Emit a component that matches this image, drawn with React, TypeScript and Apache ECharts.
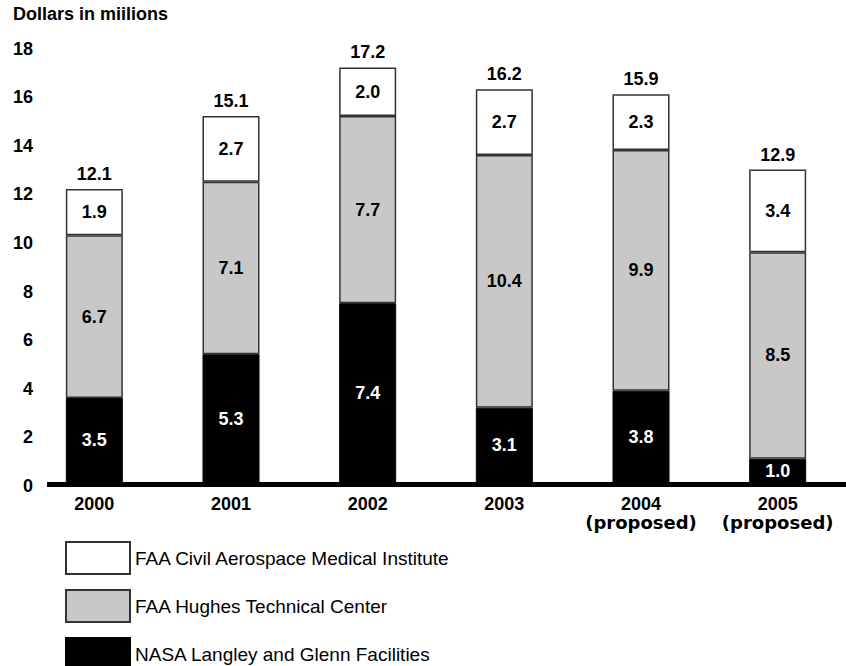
import React, { useEffect, useRef } from "react";
import * as echarts from "echarts";

const categories = ["2000", "2001", "2002", "2003", "2004\n(proposed)", "2005\n(proposed)"];
const nasaValues = [3.5, 5.3, 7.4, 3.1, 3.8, 1.0];
const hughesValues = [6.7, 7.1, 7.7, 10.4, 9.9, 8.5];
const camiValues = [1.9, 2.7, 2.0, 2.7, 2.3, 3.4];
const totalLabels = [12.1, 15.1, 17.2, 16.2, 15.9, 12.9];
const seriesNames = [
  "FAA Civil Aerospace Medical Institute",
  "FAA Hughes Technical Center",
  "NASA Langley and Glenn Facilities",
];
const yMin = 0;
const yMax = 18;
const yStep = 2;
const axisTitle = "Dollars in miilions";

const FONT = '"Liberation Sans", Arial, Helvetica, sans-serif';

export default function App() {
  const ref = useRef<HTMLDivElement>(null);
  useEffect(() => {
    if (!ref.current) return;
    const chart = echarts.init(ref.current, null, { renderer: "svg" });
    const valueLabel = (color: string) => ({
      show: true,
      position: "inside",
      color,
      fontFamily: FONT,
      fontWeight: "bold",
      fontSize: 18,
      formatter: (p: any) => Number(p.value).toFixed(1),
    });
    const option: any = {
      animation: false,
      backgroundColor: "#fff",
      title: {
        text: axisTitle,
        left: 13,
        top: 5,
        padding: 0,
        textStyle: { fontFamily: FONT, fontWeight: "bold", fontSize: 18, color: "#000" },
      },
      grid: { left: 26, right: -3, top: 45.6, bottom: 183, containLabel: false },
      legend: {
        orient: "vertical",
        left: 65,
        top: 541,
        height: 140,
        padding: 0,
        itemWidth: 64,
        itemHeight: 32,
        itemGap: 14,
        icon: "rect",
        selectedMode: false,
        data: seriesNames,
        textStyle: {
          fontFamily: FONT,
          fontSize: 19,
          lineHeight: 18,
          color: "#000",
          padding: [6, 0, 0, 0],
        },
      },
      xAxis: {
        type: "category",
        data: categories,
        axisLine: { show: false },
        axisTick: { show: false },
        axisLabel: {
          interval: 0,
          margin: 11,
          color: "#000",
          fontFamily: FONT,
          fontWeight: "bold",
          fontSize: 18,
          lineHeight: 19,
          formatter: (v: string) => {
            const parts = v.split("\n");
            return parts.length > 1 ? parts[0] + "\n{p|" + parts[1] + "}" : v;
          },
          rich: {
            p: {
              fontFamily: '"DejaVu Sans", sans-serif',
              fontWeight: "bold",
              fontSize: 18,
              lineHeight: 19,
              color: "#000",
            },
          },
        },
      },
      yAxis: {
        type: "value",
        min: yMin,
        max: yMax,
        interval: yStep,
        splitLine: { show: false },
        axisLine: { show: false },
        axisTick: { show: false },
        axisLabel: {
          margin: -7,
          align: "right",
          verticalAlign: "top",
          lineHeight: 6,
          color: "#000",
          fontFamily: FONT,
          fontWeight: "bold",
          fontSize: 18,
        },
      },
      series: [
        {
          name: seriesNames[2],
          type: "bar",
          stack: "total",
          barWidth: 57,
          data: nasaValues,
          itemStyle: { color: "#000", borderColor: "#000", borderWidth: 1 },
          label: valueLabel("#fff"),
        },
        {
          name: seriesNames[1],
          type: "bar",
          stack: "total",
          barWidth: 57,
          data: hughesValues,
          itemStyle: { color: "#c8c8c8", borderColor: "#333", borderWidth: 1.5 },
          label: valueLabel("#000"),
        },
        {
          name: seriesNames[0],
          type: "bar",
          stack: "total",
          barWidth: 57,
          data: camiValues,
          itemStyle: { color: "#fff", borderColor: "#333", borderWidth: 1.5 },
          label: valueLabel("#000"),
        },
        {
          name: "total",
          type: "bar",
          stack: "total",
          barWidth: 57,
          data: totalLabels.map(() => 0),
          itemStyle: { color: "rgba(0,0,0,0)", borderWidth: 0 },
          label: {
            show: true,
            position: "top",
            distance: 6,
            color: "#000",
            fontFamily: FONT,
            fontWeight: "bold",
            fontSize: 18,
            formatter: (p: any) => totalLabels[p.dataIndex].toFixed(1),
          },
        },
      ],
    };
    chart.setOption(option);
    const y0 = chart.convertToPixel({ yAxisIndex: 0 }, 0) as number;
    chart.setOption({
      graphic: [
        {
          type: "line",
          z: 100,
          shape: { x1: 47, y1: y0 + 1.5, x2: 846, y2: y0 + 1.5 },
          style: { stroke: "#000", lineWidth: 5 },
        },
      ],
    });
    return () => chart.dispose();
  }, []);
  return (
    <div
      ref={ref}
      style={{ position: "fixed", left: 0, top: 0, width: 846, height: 666 }}
    />
  );
}
